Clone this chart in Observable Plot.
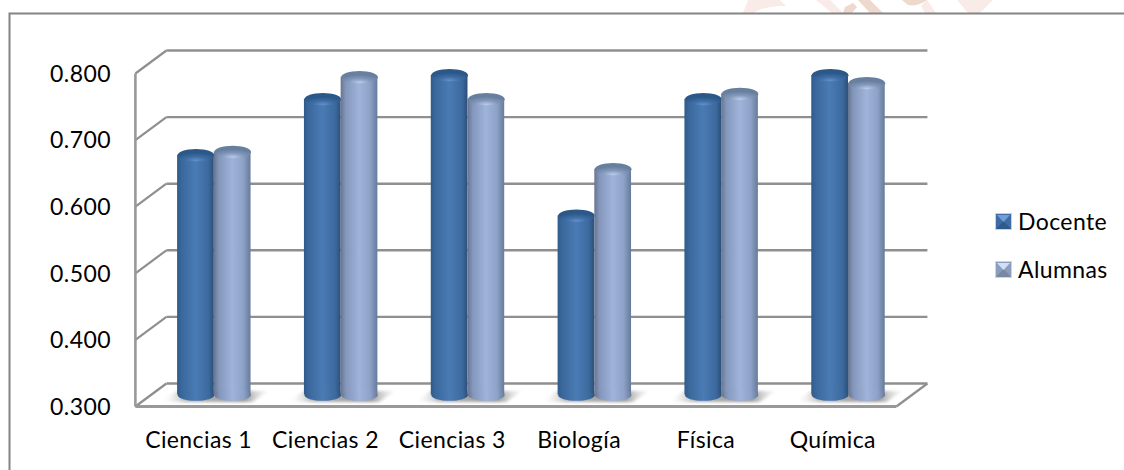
<!DOCTYPE html>
<html lang="es">
<head>
<meta charset="utf-8">
<script src="https://cdn.jsdelivr.net/npm/d3@7"></script>
<script src="https://cdn.jsdelivr.net/npm/@observablehq/plot@0.6"></script>
<style>
  html, body { margin: 0; padding: 0; background: #fff; }
  #stage { position: relative; width: 1124px; height: 470px; overflow: hidden; font-family: Lato, sans-serif; color: #000; }
  #stage svg.chart-frame { position: absolute; left: 0; top: 0; }
  #chart { position: absolute; left: 0; top: 0; }
  #chart svg text { letter-spacing: 0.4px; }
  .legend-row { position: absolute; left: 995px; display: flex; align-items: center; gap: 6px; font-size: 23px; line-height: 26px; letter-spacing: 0.4px; }
  .floor-shadow { filter: blur(1.4px); }
</style>
</head>
<body>
<div id="stage">
  <svg class="chart-frame" width="1124" height="470">
    <g fill="#f8ebe8">
      <path d="M743 13 L748 0 L780 0 L786 6 Q767 5 753 13 Z"/>
      <path d="M816 0 L830 0 L843 13 L832 13 Z"/>
      <path d="M921 6 L927 0 L936 13 L925 13 Z"/>
      <path d="M957 0 L993 0 L980 13 L968 13 Z"/>
    </g>
    <g fill="#efd8cc">
      <path d="M843 13 L845 7 L853 3 L857 7 L852 13 Z"/>
      <path d="M858 0 L870 0 L883 13 L870 13 Z"/>
      <path d="M902 0 L927 0 Q918 7 908 5 Z"/>
    </g>
    <path d="M9.5 470 V13.5 H1124" fill="none" stroke="#848484" stroke-width="2"/>
  </svg>
  <div id="chart"></div>
  <div class="legend-row" style="top:208px"><span id="swatch-0"></span><span>Docente</span></div>
  <div class="legend-row" style="top:256px"><span id="swatch-1"></span><span>Alumnas</span></div>
</div>
<script>
// Chart data
const categories = ["Ciencias 1", "Ciencias 2", "Ciencias 3", "Biología", "Física", "Química"];
const docente = [0.660, 0.744, 0.780, 0.569, 0.744, 0.780];
const alumnas = [0.665, 0.777, 0.744, 0.639, 0.752, 0.768];
const yTicks = [0.3, 0.4, 0.5, 0.6, 0.7, 0.8];
const seriesNames = ["Docente", "Alumnas"];

// Oblique depth of the box, in scale units, from the bars' plane to each wall
const depthX = 0.1223;
const depthY = 0.01727;
const barWidth = 0.2895;

const baseY = yTicks[0];
const rows = categories.map((category, i) => ({category, slot: i + 0.5, docente: docente[i], alumnas: alumnas[i]}));

// Ellipse drawn around its centre, used for cylinder caps and bases
const ellipse = (ratio) => ({
  draw(ctx, size) {
    const rx = Math.sqrt(size / Math.PI), ry = rx * ratio, k = 0.5523;
    ctx.moveTo(-rx, 0);
    ctx.bezierCurveTo(-rx, -k * ry, -k * rx, -ry, 0, -ry);
    ctx.bezierCurveTo(k * rx, -ry, rx, -k * ry, rx, 0);
    ctx.bezierCurveTo(rx, k * ry, k * rx, ry, 0, ry);
    ctx.bezierCurveTo(-k * rx, ry, -rx, k * ry, -rx, 0);
    ctx.closePath();
  }
});

// Skewed sliver cast on the floor behind each pair of bars
const floorShadow = {
  draw(ctx) {
    ctx.moveTo(-54, 6);
    ctx.lineTo(-38, -5);
    ctx.lineTo(54, -5);
    ctx.lineTo(38, 6);
    ctx.closePath();
  }
};

// Shared gradient definitions
const defs = () => {
  const d = d3.create("svg:defs");
  const linear = (id, stops, x2 = "100%", y2 = "0%") => {
    const g = d.append("linearGradient").attr("id", id).attr("x1", "0%").attr("y1", "0%").attr("x2", x2).attr("y2", y2);
    stops.forEach(([o, c, a = 1]) => g.append("stop").attr("offset", o).attr("stop-color", c).attr("stop-opacity", a));
  };
  const radial = (id, stops) => {
    const g = d.append("radialGradient").attr("id", id).attr("cx", "50%").attr("cy", "92%").attr("r", "62%");
    stops.forEach(([o, c]) => g.append("stop").attr("offset", o).attr("stop-color", c));
  };
  linear("bodyDocente", [[0, "#305a8a"], [0.12, "#3a689c"], [0.5, "#4b7bb4"], [0.85, "#3c6a9f"], [1, "#2c4f78"]]);
  linear("bodyAlumnas", [[0, "#66758f"], [0.14, "#8496bb"], [0.5, "#9fb4da"], [0.8, "#8ea2c8"], [1, "#667a9a"]]);
  radial("capDocente", [[0, "#5f90c8"], [0.45, "#3f6fa6"], [1, "#2b5888"]]);
  radial("capAlumnas", [[0, "#b9cbec"], [0.5, "#8499bd"], [1, "#68809f"]]);
  linear("shadow", [[0, "#ffffff", 0], [0.24, "#b4b4b4"], [0.78, "#9a9a9a"], [1, "#dddddd", 0.2]]);
  return d.node();
};

const wallColor = "#8f8f8f";

const chart = Plot.plot({
  width: 1124,
  height: 470,
  marginLeft: 150.4,
  marginRight: 212.6,
  marginTop: 61.5,
  marginBottom: 75.5,
  style: {background: "transparent", fontFamily: "Lato, sans-serif", overflow: "visible"},
  x: {domain: [0, categories.length], axis: null},
  y: {domain: [baseY, yTicks[yTicks.length - 1]], axis: null},
  marks: [
    defs,
    // Back wall grid
    Plot.link(yTicks, {
      x1: depthX, x2: categories.length + depthX,
      y1: (d) => d + depthY, y2: (d) => d + depthY,
      stroke: wallColor, strokeWidth: 2.4
    }),
    // Side wall: one diagonal per tick and the front upright
    Plot.link(yTicks, {
      x1: -depthX, x2: depthX,
      y1: (d) => d - depthY, y2: (d) => d + depthY,
      stroke: wallColor, strokeWidth: 2.2
    }),
    Plot.link([0], {
      x1: -depthX, x2: -depthX,
      y1: baseY - depthY, y2: yTicks[yTicks.length - 1] - depthY,
      stroke: "#999999", strokeWidth: 2.6
    }),
    // Floor edges
    Plot.link([0], {
      x1: categories.length - depthX, x2: categories.length + depthX,
      y1: baseY - depthY, y2: baseY + depthY,
      stroke: wallColor, strokeWidth: 2.2
    }),
    Plot.link([0], {
      x1: -depthX, x2: categories.length - depthX,
      y1: baseY - depthY, y2: baseY - depthY,
      stroke: "#999999", strokeWidth: 3
    }),
    // Floor shadows
    Plot.dot(rows, {x: "slot", y: baseY, r: 1, dy: 1, symbol: floorShadow, fill: "url(#shadow)", stroke: "none", className: "floor-shadow"}),
    // Docente cylinders
    Plot.rect(rows, {x1: (d) => d.slot - barWidth, x2: "slot", y1: baseY, y2: "docente", fill: "url(#bodyDocente)"}),
    Plot.dot(rows, {x: (d) => d.slot - barWidth / 2, y: baseY, r: 18.35, symbol: ellipse(0.32), fill: "url(#bodyDocente)", stroke: "none"}),
    Plot.dot(rows, {x: (d) => d.slot - barWidth / 2, y: "docente", r: 18.35, symbol: ellipse(0.34), fill: "url(#capDocente)", stroke: "none"}),
    // Alumnas cylinders
    Plot.rect(rows, {x1: "slot", x2: (d) => d.slot + barWidth, y1: baseY, y2: "alumnas", fill: "url(#bodyAlumnas)"}),
    Plot.dot(rows, {x: (d) => d.slot + barWidth / 2, y: baseY, r: 18.35, symbol: ellipse(0.32), fill: "url(#bodyAlumnas)", stroke: "none"}),
    Plot.dot(rows, {x: (d) => d.slot + barWidth / 2, y: "alumnas", r: 18.35, symbol: ellipse(0.34), fill: "url(#capAlumnas)", stroke: "none"}),
    // Axis labels sit on the front edge of the box
    Plot.axisY({
      ticks: yTicks, tickSize: 0, tickPadding: 40, tickFormat: ".3f",
      dy: 12.5, fontSize: 23, color: "#000", label: null
    }),
    Plot.axisX({
      ticks: rows.map((d) => d.slot), tickSize: 0, tickPadding: 37,
      tickFormat: (d) => categories[d - 0.5],
      dx: -15.7, fontSize: 23, color: "#000", label: null
    })
  ]
});
document.getElementById("chart").append(chart);

// Bevelled legend swatches
const swatchColors = [
  {top: "#6f9fd6", side: "#3f6da3", bottom: "#2f5a8c", edge: "#c6d2e2"},
  {top: "#d2e0f5", side: "#8b9dbf", bottom: "#76899f", edge: "#cfd6e3"}
];
seriesNames.forEach((name, i) => {
  const c = swatchColors[i];
  const s = d3.create("svg").attr("width", 17).attr("height", 17).style("display", "block").attr("aria-label", name);
  s.append("rect").attr("x", 0.5).attr("y", 0.5).attr("width", 16).attr("height", 16).attr("fill", c.side).attr("stroke", c.edge);
  s.append("path").attr("d", "M1 16 L8.5 8 L16 16 Z").attr("fill", c.bottom);
  s.append("path").attr("d", "M2 2 H15 L8.5 9 Z").attr("fill", c.top);
  document.getElementById(`swatch-${i}`).append(s.node());
});
</script>
</body>
</html>
